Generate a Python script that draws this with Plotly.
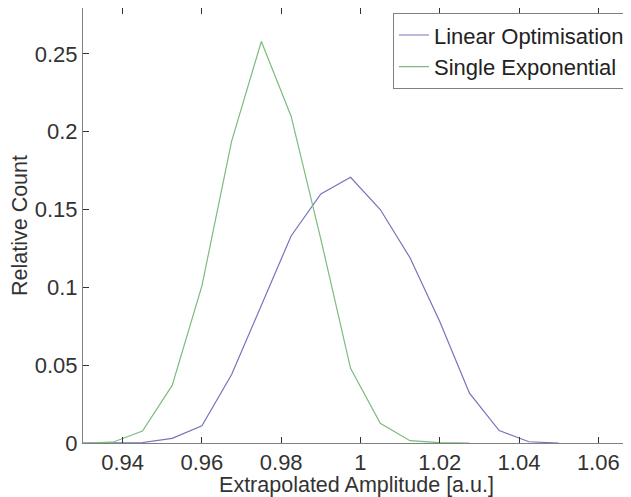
import plotly.graph_objects as go

amplitude = [0.93, 0.9375, 0.945, 0.9525, 0.96, 0.9675, 0.975, 0.9825, 0.99, 0.9975,
             1.005, 1.0125, 1.02, 1.0275, 1.035, 1.0425, 1.05]
linear_opt = [0.0, 0.0, 0.0003, 0.003, 0.011, 0.044, 0.088, 0.133, 0.160, 0.1707,
              0.150, 0.119, 0.078, 0.032, 0.008, 0.0008, 0.0]
single_exp = [0.0, 0.0005, 0.0077, 0.037, 0.101, 0.194, 0.258, 0.210, 0.131, 0.048,
              0.0126, 0.0015, 0.0002, 0.0]
x_ticks = [0.94, 0.96, 0.98, 1.0, 1.02, 1.04, 1.06]
x_tick_labels = ["0.94", "0.96", "0.98", "1", "1.02", "1.04", "1.06"]
y_ticks = [0, 0.05, 0.1, 0.15, 0.2, 0.25]
y_tick_labels = ["0", "0.05", "0.1", "0.15", "0.2", "0.25"]

FONT = "Liberation Sans, Arial, sans-serif"
AXC = "#808080"

fig = go.Figure()
fig.add_trace(go.Scatter(x=amplitude, y=linear_opt, mode="lines",
                         name="Linear Optimisation",
                         line=dict(color="#7474bc", width=1.2)))
fig.add_trace(go.Scatter(x=amplitude[:len(single_exp)], y=single_exp, mode="lines",
                         name="Single Exponential",
                         line=dict(color="#7dbb7d", width=1.2)))

# the page body has an 8px margin, so the figure is sized/offset to compensate
fig.update_layout(
    width=623, height=489,
    margin=dict(l=75, r=1, t=0, b=54),
    paper_bgcolor="white", plot_bgcolor="white",
    font=dict(family=FONT, size=21.5, color="#333333"),
    showlegend=True,
    legend=dict(x=1, y=0.988, xanchor="right", yanchor="top",
                bgcolor="white", bordercolor=AXC, borderwidth=1,
                font=dict(family=FONT, size=22, color="#222222"),
                tracegroupgap=0, itemwidth=30),
)
fig.update_xaxes(range=[0.93, 1.068], tickvals=x_ticks, ticktext=x_tick_labels,
                 ticks="inside", ticklen=6, tickcolor="#333333", tickwidth=1,
                 showline=True, linecolor=AXC, linewidth=1, mirror="ticks",
                 showgrid=False, zeroline=False,
                 tickfont=dict(size=22, color="#333333"),
                 title=dict(text="Extrapolated Amplitude [a.u.]", standoff=2,
                            font=dict(size=21.5, color="#333333")))
fig.update_yaxes(range=[0, 0.2795], tickvals=y_ticks, ticktext=y_tick_labels,
                 ticks="inside", ticklen=6, tickcolor="#333333", tickwidth=1,
                 showline=True, linecolor=AXC, linewidth=1, mirror="ticks",
                 showgrid=False, zeroline=False,
                 tickfont=dict(size=22, color="#333333"),
                 title=dict(text="Relative Count", standoff=6,
                            font=dict(size=21.5, color="#333333")))

fig.write_html("out.html")
